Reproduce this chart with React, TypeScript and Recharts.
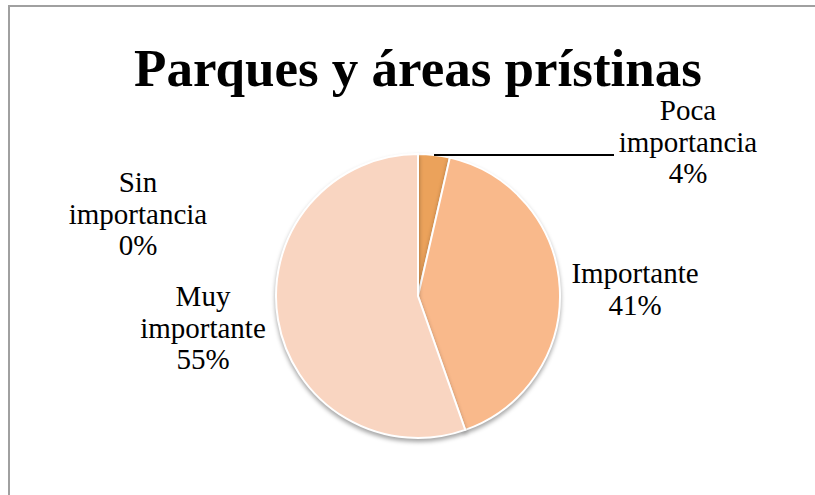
import { PieChart, Pie, Cell } from 'recharts'

const CATEGORIES = ['Sin importancia', 'Poca importancia', 'Importante', 'Muy importante']
const LABEL_LINES = [['Sin', 'importancia'], ['Poca', 'importancia'], ['Importante'], ['Muy', 'importante']]
const VALUES = [0, 3.6, 41, 55.4]
const COLORS = ['#f5c6a5', '#eba25b', '#f9b98b', '#f9d5c1']

// where each label block sits relative to the pie centre (first baseline)
const LABEL_POS = [
  { dx: -280, dy: -104 },
  { dx: 270, dy: -176 },
  { dx: 217, dy: -13 },
  { dx: -215, dy: 10 },
]

const FONT = '"Liberation Serif", "DejaVu Serif", serif'
const LINE_H = 31.5

const data = CATEGORIES.map((name, i) => ({ name, value: VALUES[i] }))

function renderLabel(props: any) {
  const { cx, cy, index, percent } = props
  const pos = LABEL_POS[index]
  const lines = [...LABEL_LINES[index], `${Math.round(percent * 100)}%`]
  return (
    <text key={`l${index}`} x={cx + pos.dx} y={cy + pos.dy} textAnchor="middle" fontFamily={FONT} fontSize={29} fill="#000">
      {lines.map((t, i) => (
        <tspan key={i} x={cx + pos.dx} dy={i === 0 ? 0 : LINE_H}>{t}</tspan>
      ))}
    </text>
  )
}

function renderLabelLine(props: any) {
  const { cx, cy, midAngle, outerRadius, index } = props
  if (index !== 1) return <g key={`ll${index}`} />
  const rad = (midAngle * Math.PI) / 180
  const x0 = cx + outerRadius * Math.cos(rad)
  const y0 = cy - outerRadius * Math.sin(rad)
  return <line key={`ll${index}`} x1={x0} y1={y0} x2={cx + 196} y2={y0} stroke="#000" strokeWidth={2} />
}

export default function App() {
  return (
    <div style={{ position: 'fixed', left: 8, top: 5, right: 0, bottom: 0, overflow: 'hidden', borderTop: '2px solid #a0a0a0', borderLeft: '2px solid #a0a0a0', background: '#fff' }}>
      <style>{`.recharts-sector { filter: drop-shadow(0px 3px 2px rgba(0,0,0,0.35)); }`}</style>
      <PieChart width={780} height={480} margin={{ top: 0, right: 0, bottom: 0, left: 0 }}>
        <text x={408} y={79} textAnchor="middle" fontFamily={FONT} fontWeight="bold" fontSize={53} fill="#000">
          Parques y áreas prístinas
        </text>
        <Pie
          data={data}
          dataKey="value"
          nameKey="name"
          cx={408}
          cy={289}
          outerRadius={142}
          startAngle={90}
          endAngle={-270}
          stroke="#ffffff"
          strokeWidth={2}
          label={renderLabel}
          labelLine={renderLabelLine}
          isAnimationActive={false}
        >
          {data.map((_, i) => <Cell key={i} fill={COLORS[i]} />)}
        </Pie>
      </PieChart>
    </div>
  )
}
